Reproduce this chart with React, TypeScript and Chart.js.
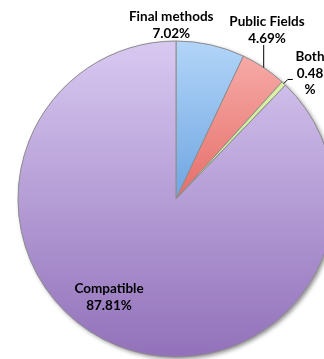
import React, { useEffect, useRef } from "react";
import { Chart, registerables } from "chart.js";

Chart.register(...registerables);

const categories = ["Final methods", "Public Fields", "Both", "Compatible"];
const values = [7.02, 4.69, 0.48, 87.81];
const valueLabels = ["7.02%", "4.69%", "0.48\n%", "87.81%"];
const gradientTop = ["#b2d5f8", "#f8b0ac", "#e0f5b0", "#d8c9f1"];
const gradientBottom = ["#6fa5e2", "#e66e69", "#c7e88e", "#9271ba"];

// label anchors relative to pie center, in units of the radius
const labelPos = [
  { fx: -0.03, fy: -1.152 },
  { fx: 0.576, fy: -1.12 },
  { fx: 0.848, fy: -0.899 },
  { fx: -0.424, fy: 0.57 },
];

const labelPlugin = {
  id: "labelsAndShadow",
  beforeDatasetsDraw(chart: any) {
    const meta = chart.getDatasetMeta(0);
    const arc = meta.data[0];
    if (!arc) return;
    const { x, y, outerRadius } = arc.getProps(["x", "y", "outerRadius"], true);
    const ctx = chart.ctx;
    ctx.save();
    ctx.shadowColor = "rgba(0,0,0,0.45)";
    ctx.shadowBlur = 4;
    ctx.shadowOffsetX = 2;
    ctx.shadowOffsetY = 2;
    ctx.fillStyle = "#a58bc8";
    ctx.beginPath();
    ctx.arc(x, y, outerRadius, 0, Math.PI * 2);
    ctx.fill();
    ctx.restore();
  },
  afterDatasetsDraw(chart: any) {
    const meta = chart.getDatasetMeta(0);
    const ctx = chart.ctx;
    const first = meta.data[0];
    if (!first) return;
    const { x: cx, y: cy, outerRadius: r } = first.getProps(["x", "y", "outerRadius"], true);
    ctx.save();
    ctx.strokeStyle = "#000";
    ctx.lineWidth = 1;
    [1, 2].forEach((i) => {
      const a = meta.data[i];
      const { startAngle, endAngle } = a.getProps(["startAngle", "endAngle"], true);
      const mid = (startAngle + endAngle) / 2;
      const px = cx + Math.cos(mid) * r;
      const py = cy + Math.sin(mid) * r;
      ctx.beginPath();
      if (i === 1) {
        ctx.moveTo(px, py);
        ctx.lineTo(px, cy + r * -0.975);
      } else {
        ctx.moveTo(px, py);
        ctx.lineTo(px + 4, py - 4);
        ctx.lineTo(px + 9, py - 4);
      }
      ctx.stroke();
    });
    ctx.fillStyle = "#000";
    ctx.font = "bold 13.5px Lato, 'Open Sans', sans-serif";
    ctx.textAlign = "center";
    ctx.textBaseline = "middle";
    labelPos.forEach((lp, i) => {
      const lines = [categories[i], ...valueLabels[i].split("\n")];
      const lh = 16.5;
      lines.forEach((t, k) => {
        ctx.fillText(t, cx + lp.fx * r, cy + lp.fy * r + k * lh);
      });
    });
    ctx.restore();
  },
};

export default function App() {
  const ref = useRef<HTMLCanvasElement>(null);
  useEffect(() => {
    if (!ref.current) return;
    const chart = new Chart(ref.current, {
      type: "pie",
      data: {
        labels: categories,
        datasets: [
          {
            data: values,
            backgroundColor: (ctx: any) => {
              const chart = ctx.chart;
              const area = chart.chartArea;
              const i = ctx.dataIndex;
              if (!area) return gradientBottom[i];
              const top = area.top;
              const midY = (area.top + area.bottom) / 2;
              const bottom = i === 3 ? area.bottom : midY;
              const g = chart.ctx.createLinearGradient(0, top, 0, bottom);
              g.addColorStop(0, gradientTop[i]);
              g.addColorStop(1, gradientBottom[i]);
              return g;
            },
            borderColor: "#8d8d8d",
            borderWidth: 1,
            hoverOffset: 0,
            offset: 0,
          },
        ],
      },
      options: {
        responsive: false,
        animation: false,
        devicePixelRatio: 1,
        radius: 158,
        events: [],
        layout: { padding: { left: 18, right: 18, top: 41, bottom: 2 } },
        plugins: { legend: { display: false }, tooltip: { enabled: false } },
      } as any,
      plugins: [labelPlugin],
    });
    return () => chart.destroy();
  }, []);
  return (
    <div style={{ position: "fixed", left: 0, top: 0, width: 324, height: 359, overflow: "hidden", background: "#fff" }}>
      <canvas ref={ref} width={352} height={359} style={{ width: 352, height: 359, display: "block" }} />
    </div>
  );
}
